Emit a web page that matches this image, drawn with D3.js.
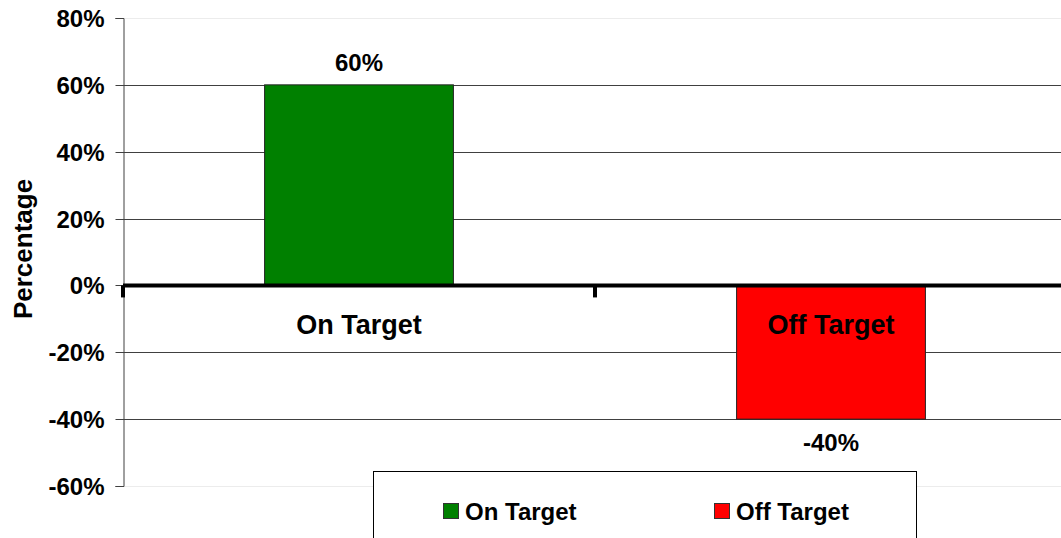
<!DOCTYPE html>
<html>
<head>
<meta charset="utf-8">
<script src="https://cdn.jsdelivr.net/npm/d3@7"></script>
<style>
  body { margin: 0; background: #fff; overflow: hidden; }
  text { font-family: "Liberation Sans", Arial, sans-serif; font-weight: bold; fill: #000; }
</style>
</head>
<body>
<svg width="1061" height="538"></svg>
<script>
// chart data
var categories = ["On Target", "Off Target"];
var values = [0.60, -0.40];
var barColors = ["#008000", "#ff0000"];
var yTicks = [-0.6, -0.4, -0.2, 0, 0.2, 0.4, 0.6, 0.8];
var yTitle = "Percentage";

var svg = d3.select("svg"),
    width = +svg.attr("width"),
    height = +svg.attr("height");

var plotLeft = 123, plotTop = 18, plotBottom = 486;

var y = d3.scaleLinear().domain([-0.6, 0.8]).range([plotBottom, plotTop]);
var x = d3.scaleBand().domain(categories).range([plotLeft, plotLeft + 2 * 472]).padding(0);
// plain hyphen for negatives, like the original
var pct = d3.format(".0%");
var fmt = function(d) { return pct(d).replace("\u2212", "-"); };

// gridlines
svg.append("g")
  .selectAll("line")
  .data(yTicks.filter(function(d) { return d != 0; }))
  .enter().append("line")
  .attr("x1", plotLeft).attr("x2", width)
  .attr("y1", function(d) { return Math.round(y(d)) + 0.5; })
  .attr("y2", function(d) { return Math.round(y(d)) + 0.5; })
  .attr("stroke", function(d) { return (d == 0.8 || d == -0.6) ? "#ececec" : "#404040"; })
  .attr("stroke-width", 1);

// y axis
var yAxis = d3.axisLeft(y).tickValues(yTicks).tickFormat(fmt).tickSizeOuter(0).tickSize(8).tickPadding(11);
var ya = svg.append("g")
  .attr("transform", "translate(" + (plotLeft + 0.5) + ",0)")
  .call(yAxis);
ya.select(".domain").attr("stroke", "#404040");
ya.selectAll(".tick line").attr("stroke", "#404040");
ya.selectAll(".tick text")
  .style("font-size", "24px")
  .attr("dy", "0.36em");
ya.selectAll(".tick").attr("transform", function(d) { return "translate(0," + (Math.round(y(d)) + 0.5) + ")"; });

// bars
svg.append("g")
  .selectAll("rect")
  .data(values)
  .enter().append("rect")
  .attr("x", function(d, i) { return x(categories[i]) + x.bandwidth() * 0.3; })
  .attr("width", x.bandwidth() * 0.4)
  .attr("y", function(d) { return y(Math.max(0, d)); })
  .attr("height", function(d) { return Math.abs(y(d) - y(0)); })
  .attr("fill", function(d, i) { return barColors[i]; })
  .attr("stroke", "#222")
  .attr("stroke-width", 1);

// zero line (category axis)
svg.append("line")
  .attr("x1", plotLeft).attr("x2", width)
  .attr("y1", y(0)).attr("y2", y(0))
  .attr("stroke", "#000").attr("stroke-width", 4);

svg.append("g")
  .selectAll("line")
  .data(categories)
  .enter().append("line")
  .attr("x1", function(d) { return x(d); })
  .attr("x2", function(d) { return x(d); })
  .attr("y1", y(0)).attr("y2", y(0) + 12)
  .attr("stroke", "#000").attr("stroke-width", 4);

// category labels
svg.append("g")
  .selectAll("text")
  .data(categories)
  .enter().append("text")
  .attr("x", function(d) { return x(d) + x.bandwidth() / 2; })
  .attr("y", y(0) + 49)
  .attr("text-anchor", "middle")
  .style("font-size", "27px")
  .text(function(d) { return d; });

// data labels
svg.append("g")
  .selectAll("text")
  .data(values)
  .enter().append("text")
  .attr("x", function(d, i) { return x(categories[i]) + x.bandwidth() / 2; })
  .attr("y", function(d) { return d >= 0 ? y(d) - 14 : y(d) + 32; })
  .attr("text-anchor", "middle")
  .style("font-size", "24px")
  .text(function(d) { return fmt(d); });

// y title
svg.append("text")
  .attr("transform", "translate(32,249) rotate(-90)")
  .attr("text-anchor", "middle")
  .style("font-size", "26px")
  .text(yTitle);

// legend
var legend = svg.append("g");
legend.append("rect")
  .attr("x", 373.5).attr("y", 471.5)
  .attr("width", 543).attr("height", 100)
  .attr("fill", "#fff").attr("stroke", "#000").attr("stroke-width", 1);

var legendX = [443, 714];
var item = legend.selectAll("g.item")
  .data(categories)
  .enter().append("g")
  .attr("class", "item")
  .attr("transform", function(d, i) { return "translate(" + legendX[i] + ",503)"; });
item.append("rect")
  .attr("x", 0.5).attr("y", 0.5)
  .attr("width", 15).attr("height", 15)
  .attr("fill", function(d, i) { return barColors[i]; })
  .attr("stroke", "#333");
item.append("text")
  .attr("x", 22).attr("y", 16.5)
  .style("font-size", "24px")
  .text(function(d) { return d; });
</script>
</body>
</html>
